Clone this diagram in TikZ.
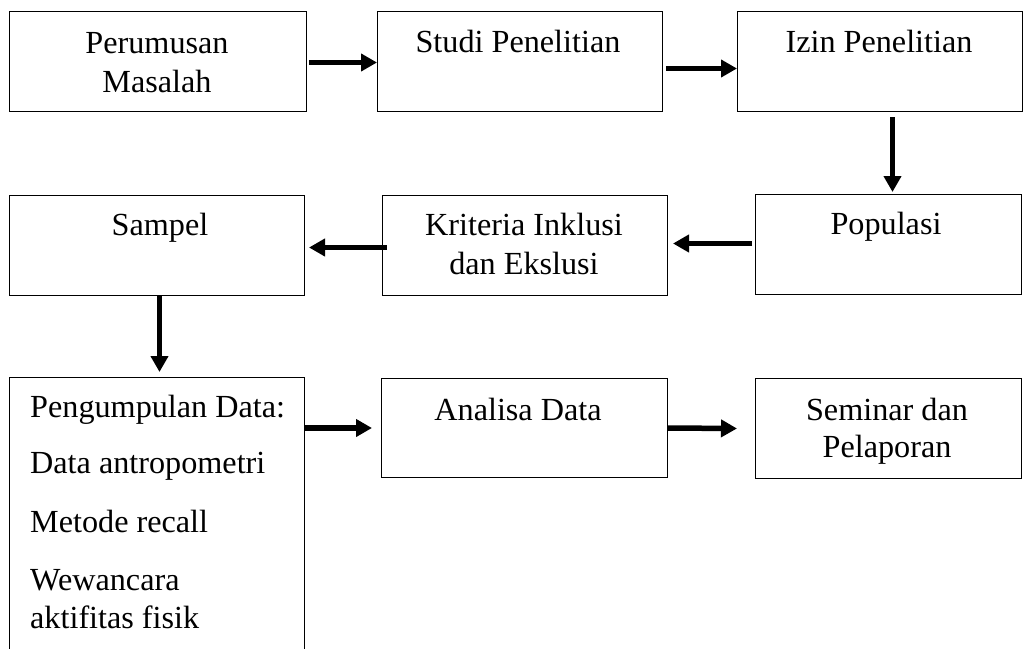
\documentclass[tikz,border=0pt]{standalone}
\usepackage{fontspec}
\setmainfont{Liberation Serif}
\usetikzlibrary{arrows.meta}
\begin{document}
\begin{tikzpicture}[x=1pt,y=-1pt,
  box/.style={draw,line width=1pt,rectangle,anchor=north west,inner sep=0pt},
  lbl/.style={anchor=base,font=\fontsize{32.2}{38}\selectfont,inner sep=0pt},
  lbll/.style={anchor=base west,font=\fontsize{32.2}{38}\selectfont,inner sep=0pt},
  arr/.style={line width=5.5pt,-{Triangle[length=16pt,width=17pt]}}]
\useasboundingbox (0,0) rectangle (1033,648);
\clip (0,0) rectangle (1033,648);
% boxes
\node[box,minimum width=297pt,minimum height=100pt] (b1) at (9,11) {};
\node[box,minimum width=285pt,minimum height=100pt] (b2) at (377,11) {};
\node[box,minimum width=285pt,minimum height=100pt] (b3) at (737,11) {};
\node[box,minimum width=295pt,minimum height=100pt] (b4) at (9,195) {};
\node[box,minimum width=285pt,minimum height=100pt] (b5) at (382,195) {};
\node[box,minimum width=266pt,minimum height=100pt] (b6) at (755,194) {};
\node[box,minimum width=295pt,minimum height=290pt] (b7) at (9,377) {};
\node[box,minimum width=286pt,minimum height=99pt] (b8) at (381,378) {};
\node[box,minimum width=266pt,minimum height=100pt] (b9) at (755,378) {};
% labels
\node[lbl] (t1a) at (157,53) {Perumusan};
\node[lbl] (t1b) at (157,92) {Masalah};
\node[lbl] (t2) at (518,52) {Studi Penelitian};
\node[lbl] (t3) at (879,52) {Izin Penelitian};
\node[lbl] (t4) at (160,235) {Sampel};
\node[lbl] (t5a) at (524,235) {Kriteria Inklusi};
\node[lbl] (t5b) at (524,274) {dan Ekslusi};
\node[lbl] (t6) at (886,234) {Populasi};
\node[lbll] (t7a) at (30,417) {Pengumpulan Data:};
\node[lbll] (t7b) at (30,473) {Data antropometri};
\node[lbll] (t7c) at (30,532) {Metode recall};
\node[lbll] (t7d) at (30,590) {Wewancara};
\node[lbll] (t7e) at (30,628) {aktifitas fisik};
\node[lbl] (t8) at (518,420) {Analisa Data};
\node[lbl] (t9a) at (887,420) {Seminar dan};
\node[lbl] (t9b) at (887,457) {Pelaporan};
% arrows
\draw[arr] ([xshift=2pt,yshift=-1pt]b1.east) -- ([yshift=-1pt]b2.west);
\draw[arr] ([xshift=3pt,yshift=-7pt]b2.east) -- ([yshift=-7pt]b3.west);
\draw[arr] ([xshift=12.5pt,yshift=-5pt]b3.south) -- ([xshift=4pt,yshift=2pt]b6.north);
\draw[arr] ([xshift=-3pt,yshift=1pt]b6.west) -- ([xshift=5pt,yshift=1pt]b6.west -| b5.east);
\draw[arr] ([xshift=5pt,yshift=-2pt]b5.west) -- ([xshift=4pt,yshift=-2pt]b4.east);
\draw[arr] ([xshift=2.5pt]b4.south) -- ([xshift=2.5pt,yshift=5pt]b4.south |- b7.north);
\draw[arr] (b7.east |- b8.west) -- ([xshift=-9pt]b8.west);
\draw[arr] (b8.east) -- ([xshift=-18pt]b9.west);
\end{tikzpicture}
\end{document}
